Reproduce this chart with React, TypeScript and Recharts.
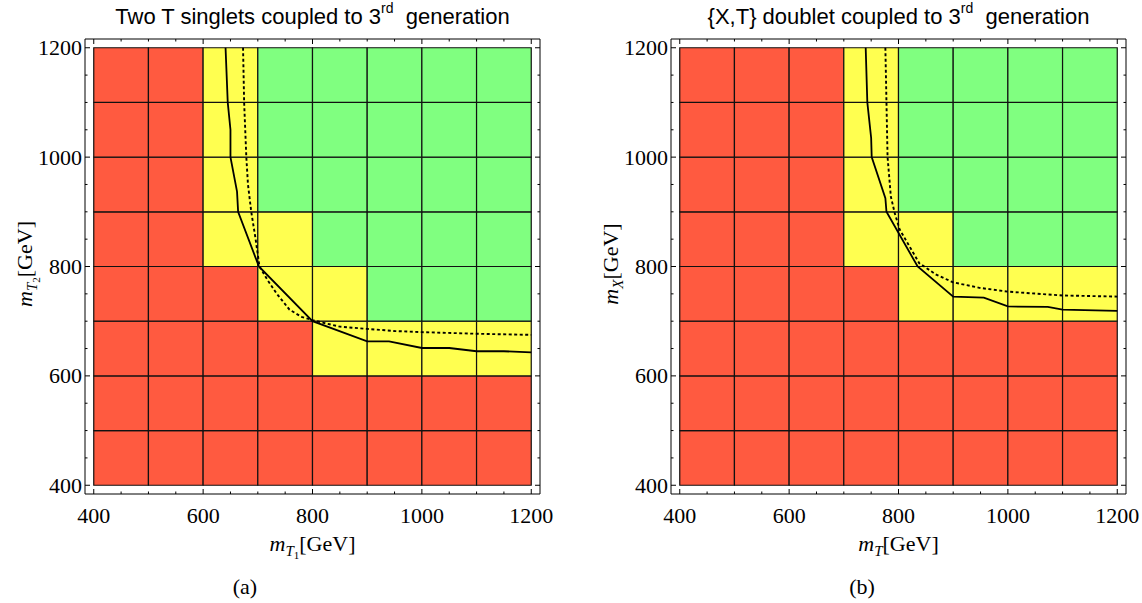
import React from "react";
import { ComposedChart, XAxis, YAxis, Line, ReferenceArea } from "recharts";

// bin edges in GeV (same on both axes)
const EDGES = [400, 500, 600, 700, 800, 900, 1000, 1100, 1200];
const TICKS = [400, 450, 500, 550, 600, 650, 700, 750, 800, 850, 900, 950, 1000, 1050, 1100, 1150, 1200];
const DOMAIN: [number, number] = [384, 1216];

// cell status, rows from bottom (400-500) to top (1100-1200), columns left to right
// R = excluded, Y = partly, G = allowed
const CELLS_A = ["RRRRRRRR", "RRRRRRRR", "RRRRYYYY", "RRRYYGGG", "RRYYGGGG", "RRYGGGGG", "RRYGGGGG", "RRYGGGGG"];
const CELLS_B = ["RRRRRRRR", "RRRRRRRR", "RRRRRRRR", "RRRRYYYY", "RRRYYGGG", "RRRYGGGG", "RRRYGGGG", "RRRYGGGG"];

// exclusion contours
const SOLID_A = [
  { x: 641, y: 1200 }, { x: 645, y: 1100 }, { x: 650, y: 1050 }, { x: 650, y: 1000 },
  { x: 662, y: 937 }, { x: 664, y: 900 }, { x: 702, y: 800 }, { x: 800, y: 700 },
  { x: 900, y: 663 }, { x: 940, y: 663 }, { x: 1000, y: 651 }, { x: 1050, y: 651 },
  { x: 1100, y: 645 }, { x: 1150, y: 645 }, { x: 1200, y: 643 },
];
const DOTTED_A = [
  { x: 673, y: 1200 }, { x: 675, y: 1100 }, { x: 677, y: 1050 }, { x: 679, y: 1000 },
  { x: 682, y: 950 }, { x: 688, y: 900 }, { x: 696, y: 850 }, { x: 703, y: 800 },
  { x: 718, y: 775 }, { x: 734, y: 751 }, { x: 758, y: 721 }, { x: 780, y: 708 },
  { x: 800, y: 702 }, { x: 820, y: 697 }, { x: 850, y: 690 }, { x: 899, y: 686 },
  { x: 950, y: 682 }, { x: 1000, y: 680 }, { x: 1100, y: 677 }, { x: 1200, y: 675 },
];
const SOLID_B = [
  { x: 740, y: 1200 }, { x: 743, y: 1100 }, { x: 750, y: 1035 }, { x: 751, y: 1000 },
  { x: 776, y: 925 }, { x: 778, y: 900 }, { x: 835, y: 800 }, { x: 900, y: 745 },
  { x: 956, y: 743 }, { x: 1000, y: 727 }, { x: 1073, y: 726 }, { x: 1100, y: 721 },
  { x: 1200, y: 719 },
];
const DOTTED_B = [
  { x: 776, y: 1200 }, { x: 778, y: 1100 }, { x: 780, y: 1000 }, { x: 786, y: 928 },
  { x: 793, y: 898 }, { x: 802, y: 868 }, { x: 820, y: 837 }, { x: 838, y: 806 },
  { x: 869, y: 785 }, { x: 900, y: 771 }, { x: 948, y: 761 }, { x: 1000, y: 754 },
  { x: 1100, y: 747 }, { x: 1200, y: 745 },
];

const COLORS: Record<string, string> = { R: "#ff5a40", Y: "#ffff50", G: "#80ff80" };
const SERIF = "'Liberation Serif', 'DejaVu Serif', serif";
const SANS = "'Liberation Sans', Arial, sans-serif";

const PLOT = 455; // frame size in px
const TOP = 39;
const LEFT = 85;
const AX_H = 30;
const AX_W = 50;

const XTick = (props: any) => {
  const { x, payload } = props;
  const major = payload.value % 200 === 0;
  const len = major ? 5 : 2.5;
  const y0 = TOP + PLOT;
  return (
    <g>
      <line x1={x} x2={x} y1={y0} y2={y0 - len} stroke="#000" />
      <line x1={x} x2={x} y1={TOP} y2={TOP + len} stroke="#000" />
      {major && (
        <text x={x} y={y0 + 29} textAnchor="middle" fontFamily={SERIF} fontSize={22} fill="#000">
          {payload.value}
        </text>
      )}
    </g>
  );
};

const YTick = (props: any) => {
  const { y, payload } = props;
  const major = payload.value % 200 === 0;
  const len = major ? 5 : 2.5;
  return (
    <g>
      <line x1={LEFT} x2={LEFT + len} y1={y} y2={y} stroke="#000" />
      <line x1={LEFT + PLOT} x2={LEFT + PLOT - len} y1={y} y2={y} stroke="#000" />
      {major && (
        <text x={LEFT - 3} y={y + 7.5} textAnchor="end" fontFamily={SERIF} fontSize={22} fill="#000">
          {payload.value}
        </text>
      )}
    </g>
  );
};

function Panel({ cells, solid, dotted }: { cells: string[]; solid: any[]; dotted: any[] }) {
  const areas: React.ReactNode[] = [];
  cells.forEach((row, r) => {
    row.split("").forEach((c, k) => {
      areas.push(
        <ReferenceArea
          key={`${r}-${k}`}
          x1={EDGES[k]}
          x2={EDGES[k + 1]}
          y1={EDGES[r]}
          y2={EDGES[r + 1]}
          fill={COLORS[c]}
          fillOpacity={1}
          stroke="#111"
          strokeWidth={1.2}
          ifOverflow="visible"
        />
      );
    });
  });
  return (
    <ComposedChart
      width={560}
      height={603}
      margin={{ top: TOP, left: LEFT - AX_W, right: 20, bottom: 603 - TOP - PLOT - AX_H }}
    >
      <XAxis
        type="number"
        dataKey="x"
        domain={DOMAIN}
        ticks={TICKS}
        interval={0}
        allowDataOverflow
        height={AX_H}
        tickSize={0}
        tickMargin={0}
        tickLine={false}
        axisLine={false}
        tick={(p: any) => <XTick {...p} />}
      />
      <YAxis
        type="number"
        dataKey="y"
        domain={DOMAIN}
        ticks={TICKS}
        interval={0}
        allowDataOverflow
        width={AX_W}
        tickSize={0}
        tickMargin={0}
        tickLine={false}
        axisLine={false}
        tick={(p: any) => <YTick {...p} />}
      />
      {areas}
      <ReferenceArea
        x1={DOMAIN[0]}
        x2={DOMAIN[1]}
        y1={DOMAIN[0]}
        y2={DOMAIN[1]}
        fill="none"
        stroke="#000"
        strokeWidth={1}
        ifOverflow="visible"
      />
      <Line data={solid} dataKey="y" type="linear" dot={false} stroke="#000" strokeWidth={1.8} isAnimationActive={false} />
      <Line data={dotted} dataKey="y" type="linear" dot={false} stroke="#000" strokeWidth={1.9} strokeDasharray="3 2.5" isAnimationActive={false} />
    </ComposedChart>
  );
}

const titleStyle: React.CSSProperties = {
  position: "absolute",
  top: 4,
  width: PLOT,
  textAlign: "center",
  fontFamily: SANS,
  fontSize: 22,
  whiteSpace: "nowrap",
};
const supStyle: React.CSSProperties = { fontSize: 14, verticalAlign: "top", position: "relative", top: -4 };
const labelStyle: React.CSSProperties = {
  position: "absolute",
  width: PLOT,
  textAlign: "center",
  fontFamily: SERIF,
  fontSize: 22,
  whiteSpace: "nowrap",
};

function AxisName({ sub, subsub }: { sub: string; subsub?: string }) {
  return (
    <span>
      <i>m</i>
      <span style={{ fontSize: 15, position: "relative", top: 5, fontStyle: "italic" }}>
        {sub}
        {subsub && <span style={{ fontSize: 11, position: "relative", top: 3, fontStyle: "normal" }}>{subsub}</span>}
      </span>
      [GeV]
    </span>
  );
}

export default function App() {
  const bLeft = 586;
  return (
    <div style={{ position: "absolute", left: 0, top: 0, width: 1142, height: 603, background: "#fff", overflow: "hidden" }}>
      <div style={{ position: "absolute", left: 0, top: 0 }}>
        <Panel cells={CELLS_A} solid={SOLID_A} dotted={DOTTED_A} />
      </div>
      <div style={{ position: "absolute", left: bLeft, top: 0 }}>
        <Panel cells={CELLS_B} solid={SOLID_B} dotted={DOTTED_B} />
      </div>

      <div style={{ ...titleStyle, left: LEFT }}>
        Two T singlets coupled to 3<span style={supStyle}>rd</span>&nbsp; generation
      </div>
      <div style={{ ...titleStyle, left: bLeft + LEFT }}>
        {"{X,T} doublet coupled to 3"}<span style={supStyle}>rd</span>&nbsp; generation
      </div>

      <div style={{ ...labelStyle, left: LEFT, top: 531 }}>
        <AxisName sub="T" subsub="1" />
      </div>
      <div style={{ ...labelStyle, left: bLeft + LEFT, top: 531 }}>
        <AxisName sub="T" />
      </div>

      <div style={{ ...labelStyle, left: 24 - PLOT / 2, top: 251, transform: "rotate(-90deg)" }}>
        <AxisName sub="T" subsub="2" />
      </div>
      <div style={{ ...labelStyle, left: bLeft + 24 - PLOT / 2, top: 251, transform: "rotate(-90deg)" }}>
        <AxisName sub="X" />
      </div>

      <div style={{ ...labelStyle, left: 245 - PLOT / 2, top: 574 }}>(a)</div>
      <div style={{ ...labelStyle, left: 862 - PLOT / 2, top: 574 }}>(b)</div>
    </div>
  );
}
